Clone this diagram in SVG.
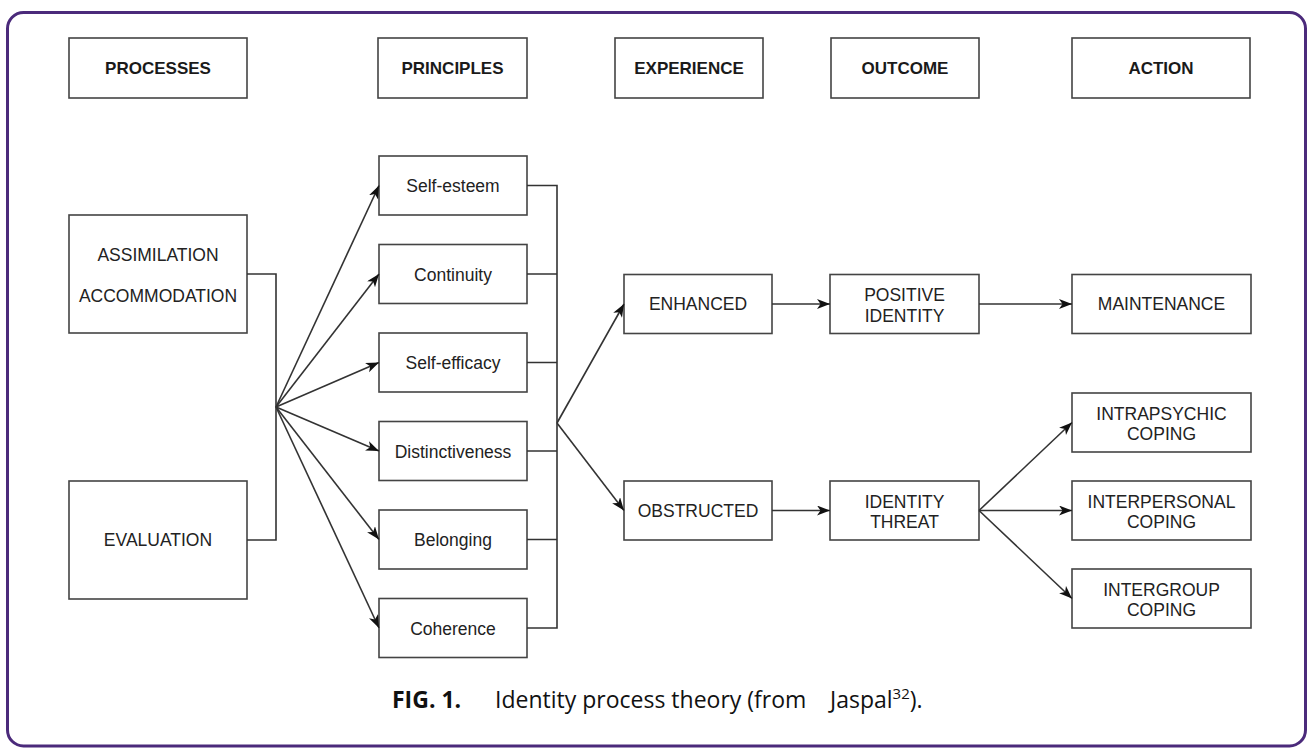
<svg xmlns="http://www.w3.org/2000/svg" width="1310" height="750" viewBox="0 0 1310 750">
  <defs>
    <style>
      .frame{fill:#fff;stroke:#4b2a7b;stroke-width:3}
      .box{fill:#fff;stroke:#444;stroke-width:1.6}
      .hdr{font-family:"Liberation Sans",Arial,sans-serif;font-weight:bold;font-size:17px;fill:#1a1a1a;text-anchor:middle}
      .lbl{font-family:"Liberation Sans",Arial,sans-serif;font-size:17.5px;fill:#222;text-anchor:middle}
      .conn{stroke:#333;stroke-width:1.6;fill:none}
      .cap{font-family:"Open Sans","Noto Sans",sans-serif;font-size:23px;fill:#111}
    </style>
    <marker id="arr" markerUnits="userSpaceOnUse" markerWidth="14" markerHeight="11" refX="13" refY="5" orient="auto">
      <path d="M0,0 L13,5 L0,10 L3.5,5 Z" fill="#111"/>
    </marker>
  </defs>

  <rect class="frame" x="7.5" y="12.5" width="1298" height="733.5" rx="16"/>

  <!-- header row -->
  <g id="hdr-processes"><rect class="box" x="69" y="38" width="178" height="60"/><text class="hdr" x="158" y="74">PROCESSES</text></g>
  <g id="hdr-principles"><rect class="box" x="378" y="38" width="149" height="60"/><text class="hdr" x="452.5" y="74">PRINCIPLES</text></g>
  <g id="hdr-experience"><rect class="box" x="615" y="38" width="148" height="60"/><text class="hdr" x="689" y="74">EXPERIENCE</text></g>
  <g id="hdr-outcome"><rect class="box" x="831" y="38" width="148" height="60"/><text class="hdr" x="905" y="74">OUTCOME</text></g>
  <g id="hdr-action"><rect class="box" x="1072" y="38" width="178" height="60"/><text class="hdr" x="1161" y="74">ACTION</text></g>

  <!-- processes -->
  <g id="assimilation"><rect class="box" x="69" y="215" width="178" height="118"/><text class="lbl" x="158" y="261">ASSIMILATION</text><text class="lbl" x="158" y="302">ACCOMMODATION</text></g>
  <g id="evaluation"><rect class="box" x="69" y="481" width="178" height="118"/><text class="lbl" x="158" y="546">EVALUATION</text></g>

  <!-- principles -->
  <g id="self-esteem"><rect class="box" x="379" y="156" width="148" height="59"/><text class="lbl" x="453" y="192">Self-esteem</text></g>
  <g id="continuity"><rect class="box" x="379" y="244.5" width="148" height="59"/><text class="lbl" x="453" y="280.5">Continuity</text></g>
  <g id="self-efficacy"><rect class="box" x="379" y="333" width="148" height="59"/><text class="lbl" x="453" y="369">Self-efficacy</text></g>
  <g id="distinctiveness"><rect class="box" x="379" y="421.5" width="148" height="59"/><text class="lbl" x="453" y="457.5">Distinctiveness</text></g>
  <g id="belonging"><rect class="box" x="379" y="510" width="148" height="59"/><text class="lbl" x="453" y="546">Belonging</text></g>
  <g id="coherence"><rect class="box" x="379" y="598.5" width="148" height="59"/><text class="lbl" x="453" y="634.5">Coherence</text></g>

  <!-- experience -->
  <g id="enhanced"><rect class="box" x="624" y="274.5" width="148" height="59"/><text class="lbl" x="698" y="310">ENHANCED</text></g>
  <g id="obstructed"><rect class="box" x="624" y="481" width="148" height="59"/><text class="lbl" x="698" y="516.5">OBSTRUCTED</text></g>

  <!-- outcome -->
  <g id="positive-identity"><rect class="box" x="830" y="274.5" width="149" height="59"/><text class="lbl" x="904.5" y="301">POSITIVE</text><text class="lbl" x="904.5" y="321.5">IDENTITY</text></g>
  <g id="identity-threat"><rect class="box" x="830" y="481" width="149" height="59"/><text class="lbl" x="904.5" y="507.5">IDENTITY</text><text class="lbl" x="904.5" y="528">THREAT</text></g>

  <!-- action -->
  <g id="maintenance"><rect class="box" x="1072" y="274.5" width="179" height="59"/><text class="lbl" x="1161.5" y="310">MAINTENANCE</text></g>
  <g id="intrapsychic"><rect class="box" x="1072" y="393" width="179" height="59"/><text class="lbl" x="1161.5" y="419.5">INTRAPSYCHIC</text><text class="lbl" x="1161.5" y="440">COPING</text></g>
  <g id="interpersonal"><rect class="box" x="1072" y="481" width="179" height="59"/><text class="lbl" x="1161.5" y="507.5">INTERPERSONAL</text><text class="lbl" x="1161.5" y="528">COPING</text></g>
  <g id="intergroup"><rect class="box" x="1072" y="569" width="179" height="59"/><text class="lbl" x="1161.5" y="595.5">INTERGROUP</text><text class="lbl" x="1161.5" y="616">COPING</text></g>

  <!-- connectors -->
  <g id="connectors">
    <path class="conn" d="M247,274 H276 V540 H247"/>
    <line class="conn" x1="276" y1="407" x2="379" y2="185.5" marker-end="url(#arr)"/>
    <line class="conn" x1="276" y1="407" x2="379" y2="274" marker-end="url(#arr)"/>
    <line class="conn" x1="276" y1="407" x2="379" y2="362.5" marker-end="url(#arr)"/>
    <line class="conn" x1="276" y1="407" x2="379" y2="451" marker-end="url(#arr)"/>
    <line class="conn" x1="276" y1="407" x2="379" y2="539.5" marker-end="url(#arr)"/>
    <line class="conn" x1="276" y1="407" x2="379" y2="628" marker-end="url(#arr)"/>

    <path class="conn" d="M527,185.5 H557 V628 H527 M527,274 H557 M527,362.5 H557 M527,451 H557 M527,539.5 H557"/>
    <line class="conn" x1="557" y1="423" x2="624" y2="304" marker-end="url(#arr)"/>
    <line class="conn" x1="557" y1="423" x2="624" y2="510.5" marker-end="url(#arr)"/>

    <line class="conn" x1="772" y1="304" x2="830" y2="304" marker-end="url(#arr)"/>
    <line class="conn" x1="979" y1="304" x2="1072" y2="304" marker-end="url(#arr)"/>
    <line class="conn" x1="772" y1="510.5" x2="830" y2="510.5" marker-end="url(#arr)"/>

    <line class="conn" x1="979" y1="510.5" x2="1072" y2="422.5" marker-end="url(#arr)"/>
    <line class="conn" x1="979" y1="510.5" x2="1072" y2="510.5" marker-end="url(#arr)"/>
    <line class="conn" x1="979" y1="510.5" x2="1072" y2="598.5" marker-end="url(#arr)"/>
  </g>

  <!-- caption -->
  <text class="cap" x="392" y="708" font-weight="bold">FIG. 1.</text>
  <text class="cap" x="495" y="708">Identity process theory (from <tspan x="830">Jaspal</tspan><tspan font-size="15" dy="-9">32</tspan><tspan dy="9">).</tspan></text>
</svg>
